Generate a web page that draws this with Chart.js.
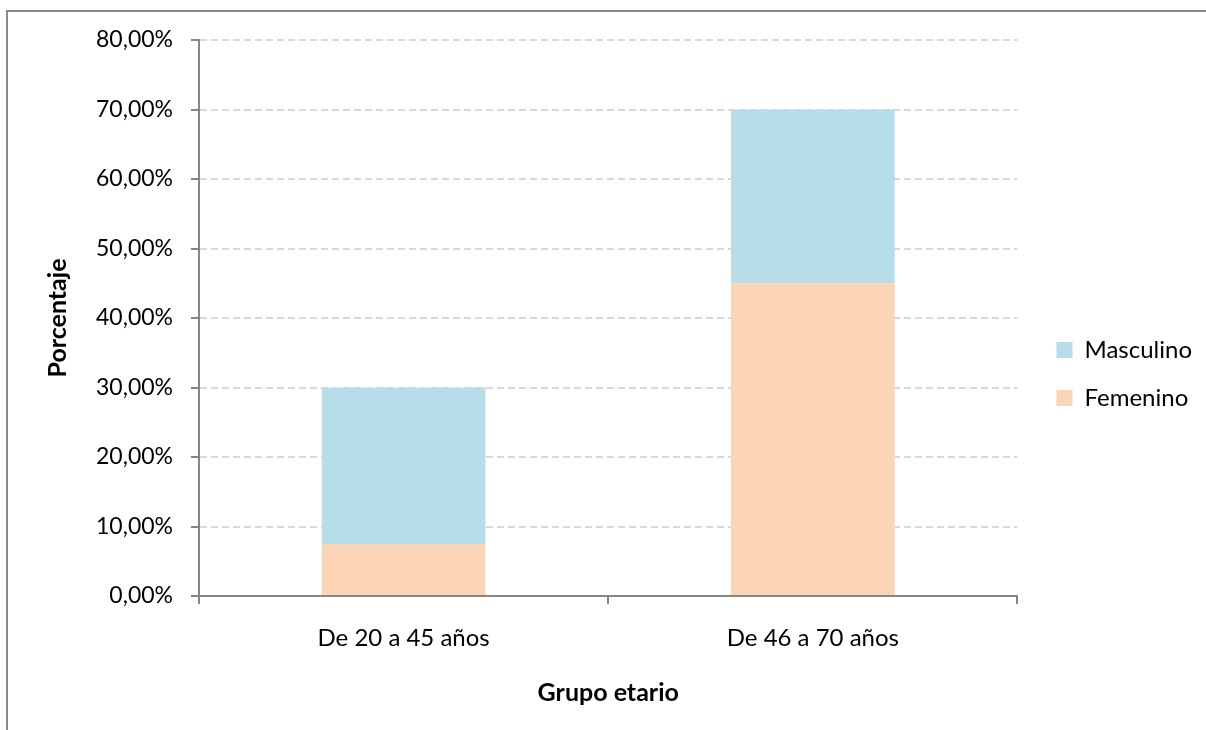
<!DOCTYPE html>
<html>
<head>
<meta charset="utf-8">
<script src="https://cdn.jsdelivr.net/npm/chart.js@4/dist/chart.umd.min.js"></script>
<style>
  html, body { margin: 0; padding: 0; background: #ffffff; overflow: hidden; }
  #wrap { position: relative; width: 1206px; height: 730px; }
  #frame { position: absolute; left: 6px; top: 10px; width: 1400px; height: 900px;
           border-left: 2px solid #8a8a8a; border-top: 2px solid #8a8a8a; }
  #c { position: absolute; left: 0; top: 0; }
</style>
</head>
<body>
<div id="wrap">
  <div id="frame"></div>
  <canvas id="c" width="1206" height="730"></canvas>
</div>
<script>
// Age groups and the share of each sex inside them (percent)
const categories = ['De 20 a 45 años', 'De 46 a 70 años'];
const femenino = [7.5, 45];
const masculino = [22.5, 25];
const yTickValues = [0, 10, 20, 30, 40, 50, 60, 70, 80];
const yTickLabels = ['0,00%', '10,00%', '20,00%', '30,00%', '40,00%', '50,00%', '60,00%', '70,00%', '80,00%'];

const FONT = 'Lato, "Open Sans", sans-serif';
const AXIS = '#868686';
const GRID = '#d9d9d9';
const PLOT_LEFT = 199;
const PLOT_RIGHT = 1017;
const LEGEND_GAP = 15;

// nudges the legend a little away from the plot area
const legendOffset = {
  id: 'legendOffset',
  afterLayout(chart) {
    if (chart.legend) {
      chart.legend.left += LEGEND_GAP;
      chart.legend.right += LEGEND_GAP;
    }
  }
};

const chart = new Chart(document.getElementById('c'), {
  type: 'bar',
  data: {
    labels: categories,
    datasets: [
      { label: 'Femenino', data: femenino, backgroundColor: '#fbd5b5', borderWidth: 0 },
      { label: 'Masculino', data: masculino, backgroundColor: '#b7dde8', borderWidth: 0 }
    ]
  },
  plugins: [legendOffset],
  options: {
    responsive: false,
    animation: false,
    layout: { padding: { left: 0, top: 40, right: 9, bottom: 22 } },
    datasets: { bar: { barPercentage: 0.4, categoryPercentage: 1.0 } },
    plugins: {
      tooltip: { enabled: false },
      legend: {
        position: 'right',
        reverse: true,
        labels: {
          boxWidth: 16, boxHeight: 16, padding: 24,
          color: '#000000',
          font: { family: FONT, size: 24 }
        }
      }
    },
    scales: {
      x: {
        stacked: true,
        grid: {
          offset: true, drawOnChartArea: false, drawTicks: true, tickLength: 8,
          color: AXIS, tickColor: AXIS, lineWidth: 2, tickWidth: 2
        },
        border: { display: true, color: AXIS, width: 2, z: 1 },
        ticks: { color: '#000000', font: { family: FONT, size: 24 }, padding: 20, maxRotation: 0 },
        title: {
          display: true, text: 'Grupo etario', color: '#000000',
          font: { family: FONT, size: 25, weight: 'bold' },
          padding: { top: 0, bottom: 0 }
        },
        afterFit(scale) { scale.height = 112; }
      },
      y: {
        stacked: true,
        min: 0, max: 80,
        afterBuildTicks(scale) { scale.ticks = yTickValues.map(v => ({ value: v })); },
        grid: {
          color: GRID, lineWidth: 2, drawTicks: true, tickLength: 8,
          tickColor: AXIS, tickWidth: 2, tickBorderDash: []
        },
        border: { display: true, color: AXIS, width: 2, dash: [7, 4] },
        ticks: {
          color: '#000000', font: { family: FONT, size: 23 }, padding: 18,
          callback: (v, i) => yTickLabels[i]
        },
        title: {
          display: true, text: 'Porcentaje', color: '#000000',
          font: { family: FONT, size: 25, weight: 'bold' },
          padding: { top: 43, bottom: 0 }
        },
        afterFit(scale) { scale.width = PLOT_LEFT; }
      }
    }
  }
});

// keep the plot's right edge where the axis should end
const drift = Math.round(chart.chartArea.right - PLOT_RIGHT);
if (drift !== 0) {
  chart.options.layout.padding.right += drift;
  chart.update();
}
</script>
</body>
</html>
